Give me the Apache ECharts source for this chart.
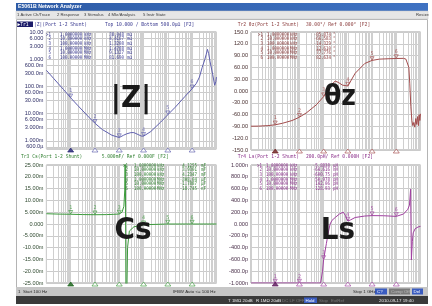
<!DOCTYPE html>
<html>
<head>
<meta charset="utf-8">
<script src="https://cdn.jsdelivr.net/npm/echarts@6/dist/echarts.min.js"></script>
<style>
  html, body { margin: 0; padding: 0; background: #fff; }
  #chart { width: 432px; height: 306px; }
</style>
</head>
<body>
<div id="chart"></div>
<script>
// marker stimulus points (Hz)
const markerFreq = [1e3, 1e4, 1e5, 1e6, 1e7, 1e8];

// Tr1 |Z| (ohm)
const zFreq = [100, 200, 500, 1e3, 2e3, 5e3, 1e4, 2e4, 5e4, 1e5, 1.5e5, 2e5, 3e5, 4e5, 6e5, 8e5, 1e6, 2e6, 5e6, 1e7, 2e7, 5e7, 1e8, 1.5e8, 2e8, 2.6e8, 3.3e8, 3.8e8, 4.3e8, 4.8e8, 5.5e8, 7e8, 8.5e8, 9e8, 9.5e8, 1e9];
const zVals = [0.39, 0.195, 0.078, 0.038, 0.0195, 0.0082, 0.0044, 0.0026, 0.0016, 0.00132, 0.0016, 0.0018, 0.002, 0.002, 0.0017, 0.0015, 0.00148, 0.0022, 0.0048, 0.0091, 0.017, 0.042, 0.082, 0.13, 0.22, 0.5, 0.95, 1.5, 2.3, 1.6, 0.8, 0.28, 0.11, 0.1, 0.15, 0.22];
const zMarkers = [38.048e-3, 4.4167e-3, 1.3208e-3, 1.4788e-3, 9.1327e-3, 81.690e-3];
const zTickVals = [10, 6, 3, 1, 0.6, 0.3, 0.1, 0.06, 0.03, 0.01, 0.006, 0.003, 0.001, 0.0006];
const zTickText = ['10.00', '6.000', '3.000', '1.000', '600.0m', '300.0m', '100.0m', '60.00m', '30.00m', '10.00m', '6.000m', '3.000m', '1.000m', '600.0\u00b5'];

// Tr2 theta z (deg)
const thFreq = [100, 200, 500, 1e3, 2e3, 5e3, 1e4, 2e4, 5e4, 1e5, 2e5, 3e5, 4e5, 6e5, 1e6, 2e6, 5e6, 1e7, 2e7, 5e7, 1e8, 2e8, 2.5e8, 3e8, 3.3e8, 3.6e8, 4e8, 4.4e8, 4.8e8, 5.3e8, 5.8e8, 6.4e8, 7e8, 7.6e8, 8.2e8, 8.8e8, 9.4e8, 1e9];
const thVals = [-89.5, -89.3, -88, -85.9, -82, -75, -66.6, -55, -35, -14.3, 15, 25, 22, 15, 12.6, 45, 70, 77.8, 81, 82, 82.6, 83, 81, 78, 60, 20, -40, -75, -88, -80, -92, -70, -85, -65, -88, -60, -75, -58];
const thMarkers = [-85.874, -66.583, -14.329, 12.610, 77.776, 82.634];
const thTickVals = [150, 120, 90, 60, 30, 0, -30, -60, -90, -120, -150];
const thTickText = ['150.0', '120.0', '90.00', '60.00', '30.00', '0.000', '-30.00', '-60.00', '-90.00', '-120.0', '-150.0'];

// Tr3 Cs (F)
const csFreq = [100, 300, 1e3, 3e3, 1e4, 3e4, 6e4, 1e5, 1.3e5, 1.55e5, 1.68e5, 1.76e5, 1.9e5, 2.05e5, 2.2e5, 2.6e5, 4e5, 1e6, 1e7, 1e8, 1e9];
const csVals = [4.35e-3, 4.2e-3, 4.1255e-3, 4.0e-3, 3.93e-3, 3.98e-3, 4.1e-3, 4.2347e-3, 5.0e-3, 7.5e-3, 14e-3, 40e-3, -40e-3, -30e-3, -10e-3, -3e-3, -1.2e-3, -0.308e-3, -1.79e-6, -18.7e-9, 0];
const csMarkers = [4.1255e-3, 3.9301e-3, 4.2347e-3, -308.04e-6, -1.7887e-6, -18.745e-9];
const csTickVals = [0.025, 0.02, 0.015, 0.01, 0.005, 0, -0.005, -0.01, -0.015, -0.02, -0.025];
const csTickText = ['25.00m', '20.00m', '15.00m', '10.00m', '5.000m', '0.000', '-5.000m', '-10.00m', '-15.00m', '-20.00m', '-25.00m'];

// Tr4 Ls (H) - off-scale part pinned to the bottom edge as drawn
const lsFreq = [100, 1e3, 1e4, 5e4, 7.5e4, 9e4, 1e5, 1.3e5, 1.6e5, 1.85e5, 2.2e5, 3e5, 4.5e5, 6.5e5, 8e5, 1e6, 1.3e6, 2e6, 5e6, 1e7, 3e7, 1e8, 2e8, 3e8, 3.5e8, 3.9e8, 4.2e8, 4.6e8, 5e8, 6e8, 8e8, 1e9];
const lsVals = [-1e-9, -1e-9, -1e-9, -1e-9, -1e-9, -0.8e-9, -0.6e-9, -0.33e-9, -0.12e-9, 0, 60e-12, 110e-12, 170e-12, 200e-12, 140e-12, 51e-12, 70e-12, 110e-12, 135e-12, 142e-12, 140e-12, 129e-12, 170e-12, 250e-12, 320e-12, 590e-12, -610e-12, -300e-12, -150e-12, -80e-12, -50e-12, -40e-12];
const lsMarkers = [-5.8838e-6, -64.616e-9, -600.75e-12, 50.978e-12, 142.06e-12, 128.93e-12];
const lsTickVals = [1e-9, 0.8e-9, 0.6e-9, 0.4e-9, 0.2e-9, 0, -0.2e-9, -0.4e-9, -0.6e-9, -0.8e-9, -1e-9];
const lsTickText = ['1.000n', '800.0p', '600.0p', '400.0p', '200.0p', '0.000', '-200.0p', '-400.0p', '-600.0p', '-800.0p', '-1.000n'];

// marker tables as shown on screen
const tblFreq = ['1.0000000', '10.000000', '100.00000', '1.0000000', '10.000000', '100.00000'];
const tblUnit = ['kHz', 'kHz', 'kHz', 'MHz', 'MHz', 'MHz'];
const zTbl = ['38.048', '4.4167', '1.3208', '1.4788', '9.1327', '81.690'];
const zTblU = ['m\u03a9', 'm\u03a9', 'm\u03a9', 'm\u03a9', 'm\u03a9', 'm\u03a9'];
const thTbl = ['-85.874', '-66.583', '-14.329', '12.610', '77.776', '82.634'];
const thTblU = ['\u00b0', '\u00b0', '\u00b0', '\u00b0', '\u00b0', '\u00b0'];
const csTbl = ['4.1255', '3.9301', '4.2347', '-308.04', '-1.7887', '-18.745'];
const csTblU = ['mF', 'mF', 'mF', '\u00b5F', '\u00b5F', 'nF'];
const lsTbl = ['-5.8838', '-64.616', '-600.75', '50.978', '142.06', '128.93'];
const lsTblU = ['\u00b5H', 'nH', 'pH', 'pH', 'pH', 'pH'];

// frequency grid lines 1..9 x 10^n
const freqGrid = [];
for (let e = 2; e <= 9; e++) {
    for (let k = 1; k <= 9; k++) {
        const v = k * Math.pow(10, e);
        if (v <= 1e9) freqGrid.push(v);
    }
}

const chart = echarts.init(document.getElementById('chart'), null, { renderer: 'canvas' });

const boxes = [
    { left: 46.4, top: 32, width: 170, height: 117 },
    { left: 251, top: 32, width: 169.5, height: 118 },
    { left: 46.4, top: 165, width: 170, height: 118 },
    { left: 251, top: 165, width: 169.5, height: 118 }
];

const traces = [
    { freq: zFreq, vals: zVals, marks: zMarkers, ticks: zTickVals, text: zTickText, log: true, min: 5e-4, max: 10,
      color: '#5f5fae', dark: '#1e1e70', lab: '#2e2e66', ref: false },
    { freq: thFreq, vals: thVals, marks: thMarkers, ticks: thTickVals, text: thTickText, log: false, min: -150, max: 150,
      color: '#a34c4c', dark: '#6a1a1a', lab: '#4a3030', ref: true },
    { freq: csFreq, vals: csVals, marks: csMarkers, ticks: csTickVals, text: csTickText, log: false, min: -0.025, max: 0.025,
      color: '#3c9a3c', dark: '#146014', lab: '#304a30', ref: true },
    { freq: lsFreq, vals: lsVals, marks: lsMarkers, ticks: lsTickVals, text: lsTickText, log: false, min: -1e-9, max: 1e-9,
      color: '#a040a0', dark: '#5a145a', lab: '#4a304a', ref: true }
];

function labelFor(t, v) {
    for (let i = 0; i < t.ticks.length; i++) {
        const a = t.ticks[i];
        if (Math.abs(a - v) <= Math.abs(a) * 1e-6 + Math.abs(t.max) * 1e-9) return t.text[i];
    }
    return '';
}

const grid = boxes.map(b => Object.assign({ show: true, borderColor: '#9c9c9c', borderWidth: 1, backgroundColor: 'transparent' }, b));
const xAxis = [];
const yAxis = [];
const series = [];

traces.forEach((t, i) => {
    xAxis.push({
        type: 'log', gridIndex: i, min: 100, max: 1e9, logBase: 10,
        axisLine: { show: false },
        axisTick: { show: false, customValues: freqGrid },
        axisLabel: { show: false },
        splitLine: { show: true, lineStyle: { color: '#cfcfcf', width: 1 } }
    });
    yAxis.push({
        type: t.log ? 'log' : 'value', gridIndex: i, min: t.min, max: t.max,
        axisLine: { show: false },
        axisTick: { show: false, customValues: t.ticks },
        axisLabel: {
            customValues: t.ticks, margin: 3, fontSize: 5.6, color: t.lab,
            fontFamily: 'Liberation Sans, Arial, sans-serif',
            formatter: v => labelFor(t, v)
        },
        splitLine: { show: true, lineStyle: { color: '#cbcbcb', width: 1 } }
    });
    const line = {
        type: 'line', xAxisIndex: i, yAxisIndex: i, z: 3,
        data: t.freq.map((f, j) => [f, t.vals[j]]),
        showSymbol: false, clip: true, animation: false,
        lineStyle: { color: t.color, width: 1 }
    };
    if (t.ref) {
        line.markLine = {
            silent: true, animation: false,
            symbol: ['triangle', 'triangle'], symbolSize: [5, 4], symbolRotate: [-90, 90],
            lineStyle: { opacity: 0 }, label: { show: false },
            itemStyle: { color: t.dark },
            data: [{ yAxis: 0 }]
        };
    }
    series.push(line);
    // markers on the trace
    series.push({
        type: 'scatter', xAxisIndex: i, yAxisIndex: i, z: 4, animation: false, clip: false,
        data: t.marks.map((v, j) => [markerFreq[j], Math.min(t.max, Math.max(t.min, v))]),
        symbol: 'triangle', symbolRotate: 180, symbolSize: [4, 3.5], symbolOffset: [0, -2],
        itemStyle: { color: 'rgba(255,255,255,0)', borderColor: t.color, borderWidth: 0.8 },
        label: {
            show: true, position: 'top', distance: 0, fontSize: 5, color: t.color,
            fontFamily: 'DejaVu Sans Mono, monospace',
            formatter: p => String(p.dataIndex + 1)
        }
    });
    // stimulus indicators along the bottom edge
    series.push({
        type: 'scatter', xAxisIndex: i, yAxisIndex: i, z: 5, animation: false, clip: false,
        data: markerFreq.map((f, j) => ({
            value: [f, t.min],
            itemStyle: j === 0 ? { color: t.dark, borderColor: t.dark, borderWidth: 0.8 }
                               : { color: '#ffffff', borderColor: t.color, borderWidth: 0.8 }
        })),
        symbol: 'triangle', symbolSize: [6, 4], symbolOffset: [0, 1]
    });
});

const mono = 'DejaVu Sans Mono, Liberation Mono, monospace';
const sans = 'Liberation Sans, Arial, sans-serif';
const g = [];

function txt(x, y, s, color, size, opts, sx) {
    g.push({
        type: 'text', x: x, y: y, z: 20, scaleX: sx || 1,
        style: Object.assign({ text: s, fill: color, fontSize: size, fontFamily: mono, verticalAlign: 'middle' }, opts || {})
    });
}

// window chrome
g.push({ type: 'rect', z: 0, shape: { x: 16.5, y: 19.5, width: 411, height: 268 }, style: { fill: 'none', stroke: '#b4b4b4', lineWidth: 1 } });
g.push({ type: 'rect', z: 10, shape: { x: 16, y: 3, width: 412, height: 8 },
    style: { fill: new echarts.graphic.LinearGradient(0, 0, 1, 0, [{ offset: 0, color: '#2d5ba6' }, { offset: 1, color: '#3f72c2' }]) } });
txt(18, 7, 'E5061B Network Analyzer', '#ffffff', 5.2, { fontFamily: sans, fontWeight: 'bold' });
g.push({ type: 'rect', z: 10, shape: { x: 16, y: 11, width: 412, height: 8 }, style: { fill: '#e6e6e6', stroke: '#c8c8c8', lineWidth: 0.5 } });
const menu = [['1 Active Ch/Trace', 17], ['2 Response', 57], ['3 Stimulus', 84], ['4 Mkr/Analysis', 108], ['5 Instr State', 143], ['Resize', 416]];
menu.forEach(m => txt(m[1], 15, m[0], '#3a3a3a', 4.2, { fontFamily: sans }));

// trace headers
const HS = 5.4, HX = 0.86;
g.push({ type: 'rect', z: 19, shape: { x: 17, y: 21.5, width: 16, height: 5.5 }, style: { fill: '#1c1c6a' } });
txt(17.5, 24.3, '\u25b6Tr1', '#ffffff', HS, null, HX);
txt(34, 24.3, '|Z|(Port 1-2 Shunt)', '#3a3a90', HS, null, HX);
txt(105, 24.3, 'Top 10.000 / Bottom 500.0\u00b5\u03a9 [F2]', '#3a3a90', HS, null, HX);
txt(237.7, 24.3, 'Tr2 \u03b8z(Port 1-2 Shunt)', '#8a3a3a', HS, null, HX);
txt(306, 24.3, '30.00\u00b0/ Ref 0.000\u00b0 [F2]', '#8a3a3a', HS, null, HX);
txt(21, 157, 'Tr3 Cs(Port 1-2 Shunt)', '#2f7f2f', HS, null, HX);
txt(101.7, 157, '5.000mF/ Ref 0.000F [F2]', '#2f7f2f', HS, null, HX);
txt(237.7, 157, 'Tr4 Ls(Port 1-2 Shunt)', '#8a2f8a', HS, null, HX);
txt(306, 157, '200.0pH/ Ref 0.000H [F2]', '#8a2f8a', HS, null, HX);

// marker tables
const TS = 5, TX = 0.82;
function table(x0, y0, vals, units, color, c) {
    for (let r = 0; r < 6; r++) {
        const y = y0 + r * 4.65;
        txt(x0 + c[0], y, (r === 0 ? '>' : ' ') + (r + 1), color, TS, null, TX);
        txt(x0 + c[1], y, tblFreq[r], color, TS, null, TX);
        txt(x0 + c[2], y, tblUnit[r], color, TS, null, TX);
        txt(x0 + c[3], y, vals[r], color, TS, { align: 'right' }, TX);
        txt(x0 + c[4], y, units[r], color, TS, null, TX);
    }
}
table(46, 34.3, zTbl, zTblU, '#3a3a90', [0, 14, 38, 78, 81]);
table(258, 34.3, thTbl, thTblU, '#8a3a3a', [0, 9, 32, 73, 75]);
table(123, 165.3, csTbl, csTblU, '#2f7f2f', [0, 11, 34, 74, 78]);
table(257, 165.3, lsTbl, lsTblU, '#8a2f8a', [0, 9, 33, 73, 76]);

// large labels
const big = { fontFamily: '"Liberation Sans Narrow", "DejaVu Sans Condensed", sans-serif', fontWeight: 'bold', align: 'center' };
txt(131, 99, '|Z|', '#1a1a1a', 31, big);
txt(340, 98, '\u03b8z', '#1a1a1a', 28, big);
txt(133, 231, 'Cs', '#1a1a1a', 31, big);
txt(338, 231, 'Ls', '#1a1a1a', 31, big);

// status bars
g.push({ type: 'rect', z: 10, shape: { x: 16, y: 287, width: 412, height: 9 }, style: { fill: '#c6c6c6' } });
txt(18, 291.5, '1  Start 100 Hz', '#2a2a2a', 4.4, { fontFamily: sans });
txt(173, 291.5, 'IFBW Auto <= 100 Hz', '#2a2a2a', 4.4, { fontFamily: sans });
txt(353, 291.5, 'Stop 1 GHz', '#2a2a2a', 4.4, { fontFamily: sans });
g.push({ type: 'rect', z: 19, shape: { x: 375, y: 288.5, width: 12, height: 6 }, style: { fill: '#3a5cc0' } });
txt(377, 291.5, 'C?', '#ffffff', 4.4, { fontFamily: sans });
g.push({ type: 'rect', z: 19, shape: { x: 389, y: 288.5, width: 21, height: 6 }, style: { fill: '#7a7a7a' } });
txt(391, 291.5, 'Comp Off', '#bcbcbc', 4.4, { fontFamily: sans });
g.push({ type: 'rect', z: 19, shape: { x: 412, y: 288.5, width: 11, height: 6 }, style: { fill: '#3a5cc0' } });
txt(413.5, 291.5, 'Del', '#ffffff', 4.4, { fontFamily: sans });

g.push({ type: 'rect', z: 10, shape: { x: 16, y: 296, width: 412, height: 8 }, style: { fill: '#3a3a3a' } });
const bot = [['T 1M\u03a9 20dB', 228, '#e8e8e8'], ['R 1M\u03a9 20dB', 256, '#e8e8e8'], ['DC LF OFF', 282, '#7a7a7a'],
             ['Stop', 319, '#7a7a7a'], ['ExtRef', 331, '#7a7a7a'], ['2010-09-17 19:40', 379, '#e8e8e8']];
g.push({ type: 'rect', z: 19, shape: { x: 304, y: 297.5, width: 13, height: 5.5 }, style: { fill: '#3a5cc0' } });
txt(305.5, 300.3, 'Hold', '#ffffff', 4.4, { fontFamily: sans });
bot.forEach(b => txt(b[1], 300.3, b[0], b[2], 4.4, { fontFamily: sans }));

chart.setOption({
    animation: false,
    backgroundColor: '#ffffff',
    grid: grid,
    xAxis: xAxis,
    yAxis: yAxis,
    series: series,
    graphic: g
});
</script>
</body>
</html>
